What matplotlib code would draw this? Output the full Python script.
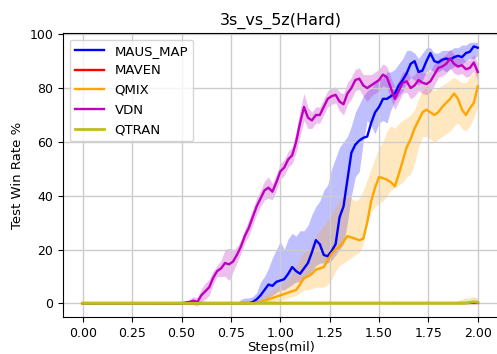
import numpy as np
import matplotlib
matplotlib.use("Agg")
import matplotlib.pyplot as plt

# evaluation steps (mil): first point at 0, then every 0.02 from 0.50 to 2.00
steps = [0.0] + list(np.round(np.arange(0.50, 2.001, 0.02), 2))

# MAUS_MAP
maus_mean = [0] + [0]*15 + [
    0, 0, 0, 0.5, 1.5,
    3, 5, 7, 6.5, 8,
    8.5, 9, 11, 13.5, 12,
    11, 13, 15, 19, 23.5,
    22, 18, 17.5, 19.5, 22,
    32, 36, 46, 56, 59,
    60.5, 61.5, 62, 67, 71,
    73, 76, 76, 77, 78,
    81, 83, 85.5, 89, 90,
    86, 86.5, 90, 93, 90,
    89.5, 90.5, 91, 90.5, 91.5,
    92, 91.5, 93, 93.5, 95.5,
    95]
maus_lo = [0] + [0]*15 + [
    0, 0, 0, 0, 0,
    0, 1, 2, 3, 4,
    5, 5, 6, 7, 8,
    8, 9, 10, 12, 14,
    15, 15, 15, 16, 18,
    20, 22, 30, 40, 47,
    49, 60, 68, 66, 63,
    67, 68, 67, 72, 75,
    77, 79, 82, 84, 83,
    81, 83, 86, 87, 86,
    86, 87, 86, 87, 88,
    88, 89, 90, 91, 91,
    92]
maus_hi = [0] + [0]*15 + [
    1.5, 2, 2, 2.5, 4,
    8, 10, 13, 17, 20,
    23, 20, 24, 26, 25,
    27, 27, 29, 33, 36,
    38, 42, 44, 50, 54,
    58, 60, 62, 66, 71,
    74, 77, 79, 80, 82,
    83, 84, 86, 86, 87,
    89, 91, 94, 94, 93,
    91, 93, 95, 95, 93,
    93, 94, 94, 94, 95,
    95, 96, 96, 97, 97,
    97]

# MAVEN stays at zero
maven_mean = [0] + [0]*76

# QMIX
qmix_mean = [0] + [0]*19 + [
    0.3, 0.6, 1, 1.5, 2, 2.5,
    3, 3.5, 4, 4.5, 5,
    7, 9.5, 10, 11, 12.5,
    13, 13.5, 16, 18.5, 20,
    21, 23, 25, 24.5, 24,
    23.5, 24, 30, 38, 43,
    47, 46.5, 46, 45, 43.5,
    48, 53, 58, 61, 65,
    68, 71, 72, 71, 70,
    71, 73, 74.5, 76, 78,
    76, 72, 70, 72.5, 74.5,
    80.7]
qmix_lo = [0] + [0]*19 + [
    0, 0, 0, 0, 0.5, 1,
    1, 1.5, 2, 2.5, 3,
    4, 5, 5, 5.5, 6,
    6, 6, 7, 9, 12,
    14, 15, 16, 17, 18,
    19, 22, 30, 34, 36,
    37, 38, 40, 42, 43,
    44, 45, 47, 48, 52,
    58, 62, 62, 61, 60,
    61, 62, 63, 64, 66,
    67, 65, 64, 66, 69,
    73]
qmix_hi = [0] + [0]*19 + [
    1, 2, 3, 4, 5, 6,
    7, 8, 9, 11, 14,
    17, 19, 20, 22, 25,
    27, 29, 31, 33, 36,
    38, 40, 41, 39, 38,
    39, 42, 46, 50, 54,
    58, 60, 64, 66, 65,
    67, 68, 69, 70, 72,
    76, 79, 81, 80, 79,
    80, 81, 82, 83, 84,
    83, 82, 82, 84, 86,
    88]

# VDN
vdn_mean = [0,
    0, 0.3, 0.5, 1, 0.5,
    3, 4.5, 6, 9.5, 12,
    13, 15, 14.5, 15.5, 18,
    21, 25, 28, 32, 36,
    39, 42, 43, 41.5, 45,
    49, 50.5, 53.5, 55, 60,
    67, 73, 69, 68, 70,
    70, 73, 76, 77, 77.5,
    75, 74, 78, 80, 83,
    83.5, 81, 80, 81, 82,
    83, 85, 84, 80, 76,
    79, 82, 82.5, 80, 81,
    83, 82, 81.5, 82.5, 85,
    87.5, 88, 89, 91, 89,
    88, 88.5, 87, 87.5, 89.5,
    86]
vdn_std = [0,
    0.5, 0.5, 1, 1.5, 1.5,
    2.5, 3, 3, 2.5, 2,
    3, 5, 6, 4, 3,
    2.5, 2.5, 3, 3, 3,
    3, 3.5, 4, 3, 3,
    3, 3, 3, 3, 4,
    5, 5, 4, 3, 3,
    3, 3, 3, 3, 3,
    3.5, 4, 4, 4, 4,
    4, 4, 5, 4, 4,
    4, 4, 4, 4, 4,
    4, 4, 4, 4, 4,
    4, 4, 4, 4, 4,
    3.5, 3.5, 3.5, 3.5, 3.5,
    3, 3, 3, 3, 3,
    3]

# QTRAN
qtran_mean = [0] + [0]*73 + [0.4, 0.6, 0.4]
qtran_hi = [0] + [0]*53 + [0.8, 0.8] + [0]*15 + [1, 1.5, 2, 2, 2.5, 2]

steps = np.array(steps)

fig = plt.figure(figsize=(4.97, 3.54), dpi=100)
# right edge sits just outside the picture, like the cropped original
ax = fig.add_axes([0.127, 0.105, 0.878, 0.802])

# MAUS_MAP
ax.plot(steps, maus_mean, color="b", lw=1.7, label="MAUS_MAP")
ax.fill_between(steps, maus_lo, maus_hi, color="b", alpha=0.25, lw=0)
# MAVEN
ax.plot(steps, maven_mean, color="r", lw=1.7, label="MAVEN")
# QMIX
ax.plot(steps, qmix_mean, color="orange", lw=1.7, label="QMIX")
ax.fill_between(steps, qmix_lo, qmix_hi, color="orange", alpha=0.25, lw=0)
# VDN
vdn_mean = np.array(vdn_mean)
vdn_std = np.array(vdn_std)
ax.plot(steps, vdn_mean, color="m", lw=1.7, label="VDN")
ax.fill_between(steps, vdn_mean - vdn_std, vdn_mean + vdn_std, color="m", alpha=0.25, lw=0)
# QTRAN
ax.plot(steps, qtran_mean, color="#bcbd22", lw=2, label="QTRAN")
ax.fill_between(steps, 0, qtran_hi, color="#bcbd22", alpha=0.3, lw=0)

ax.set_xlim(-0.1, 2.11)
ax.set_ylim(-5, 100.5)
ax.set_xticks(np.arange(0, 2.01, 0.25))
ax.set_yticks([0, 20, 40, 60, 80, 100])
ax.tick_params(labelsize=9)
ax.grid(True, color="0.8", lw=1)
ax.set_title("3s_vs_5z(Hard)", fontsize=11.5)
ax.set_xlabel("Steps(mil)", fontsize=9.5, labelpad=1)
ax.set_ylabel("Test Win Rate %", fontsize=9.5)
ax.legend(loc="upper left", fontsize=9.5, handlelength=2.2)

fig.savefig("out.png", dpi=100)
